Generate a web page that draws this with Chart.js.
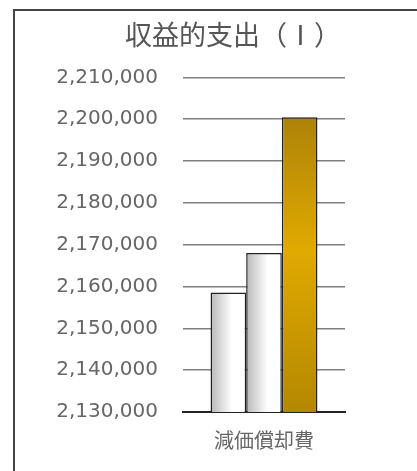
<!DOCTYPE html>
<html>
<head>
<meta charset="utf-8">
<script src="https://cdn.jsdelivr.net/npm/chart.js@4"></script>
<style>
  html, body { margin: 0; padding: 0; background: #fff; }
  #wrap { position: relative; width: 417px; height: 471px; overflow: hidden; }
  #frame {
    position: absolute; left: 13px; top: 9px; width: 420px; height: 480px;
    border-left: 2px solid #444; border-top: 2px solid #444;
  }
  canvas { position: absolute; left: 0; top: 0; }
</style>
</head>
<body>
<div id="wrap">
  <div id="frame"></div>
  <canvas id="chart" width="417" height="471"></canvas>
</div>
<script>
const categories = ['減価償却費'];
const series1 = [2158600];
const series2 = [2168000];
const series3 = [2200500];
const yMin = 2130000;
const yMax = 2210000;
const yStep = 10000;

// white/gray bars get a horizontal gradient, the gold one a vertical one
const barGradients = {
  id: 'barGradients',
  beforeDatasetsDraw(chart) {
    const ctx = chart.ctx;
    const area = chart.chartArea;
    chart.data.datasets.forEach((ds, i) => {
      const meta = chart.getDatasetMeta(i);
      meta.data.forEach(bar => {
        let g;
        if (ds.gold) {
          g = ctx.createLinearGradient(0, bar.y, 0, area.bottom);
          g.addColorStop(0, '#ad8208');
          g.addColorStop(0.45, '#e0aa00');
          g.addColorStop(1, '#b48800');
        } else {
          const left = bar.x - bar.width / 2;
          g = ctx.createLinearGradient(left, 0, left + bar.width, 0);
          g.addColorStop(0, '#b8b8b8');
          g.addColorStop(0.6, '#ffffff');
          g.addColorStop(1, '#ffffff');
        }
        bar.options.backgroundColor = g;
      });
    });
  }
};

new Chart(document.getElementById('chart'), {
  type: 'bar',
  data: {
    labels: categories,
    datasets: [
      { data: series1, backgroundColor: '#eee', borderColor: '#222', borderWidth: 1.5 },
      { data: series2, backgroundColor: '#eee', borderColor: '#222', borderWidth: 1.5 },
      { data: series3, backgroundColor: '#d9a300', borderColor: '#222', borderWidth: 1.5, gold: true }
    ]
  },
  options: {
    responsive: false,
    animation: false,
    categoryPercentage: 0.66,
    barPercentage: 1,
    layout: { padding: { left: 49, right: 0, top: 9, bottom: 0 } },
    plugins: {
      legend: { display: false },
      tooltip: { enabled: false },
      title: {
        display: true,
        text: '収益的支出（Ⅰ）',
        color: '#555',
        font: { family: '"Noto Sans CJK JP", sans-serif', size: 27, weight: 'normal' },
        padding: { top: 10, bottom: 26 }
      }
    },
    scales: {
      x: {
        afterFit(scale) { scale.height = 59; },
        grid: { display: false, drawTicks: false },
        border: { display: true, color: '#222', width: 2 },
        ticks: {
          color: '#666',
          padding: 16,
          font: { family: '"Noto Sans CJK JP", sans-serif', size: 20 }
        }
      },
      y: {
        min: yMin,
        max: yMax,
        afterFit(scale) { scale.width = 134; },
        border: { display: false },
        grid: { color: '#7f7f7f', lineWidth: 1.6, drawTicks: false },
        ticks: {
          stepSize: yStep,
          padding: 25,
          color: '#666',
          font: { family: '"DejaVu Sans", sans-serif', size: 20 },
          callback: v => v.toLocaleString('en-US')
        }
      },
      // empty right-hand axis, only reserves the blank strip right of the plot
      y2: {
        position: 'right',
        afterFit(scale) { scale.width = 72; },
        border: { display: false },
        grid: { display: false, drawTicks: false },
        ticks: { display: false }
      }
    }
  },
  plugins: [barGradients]
});
</script>
</body>
</html>
